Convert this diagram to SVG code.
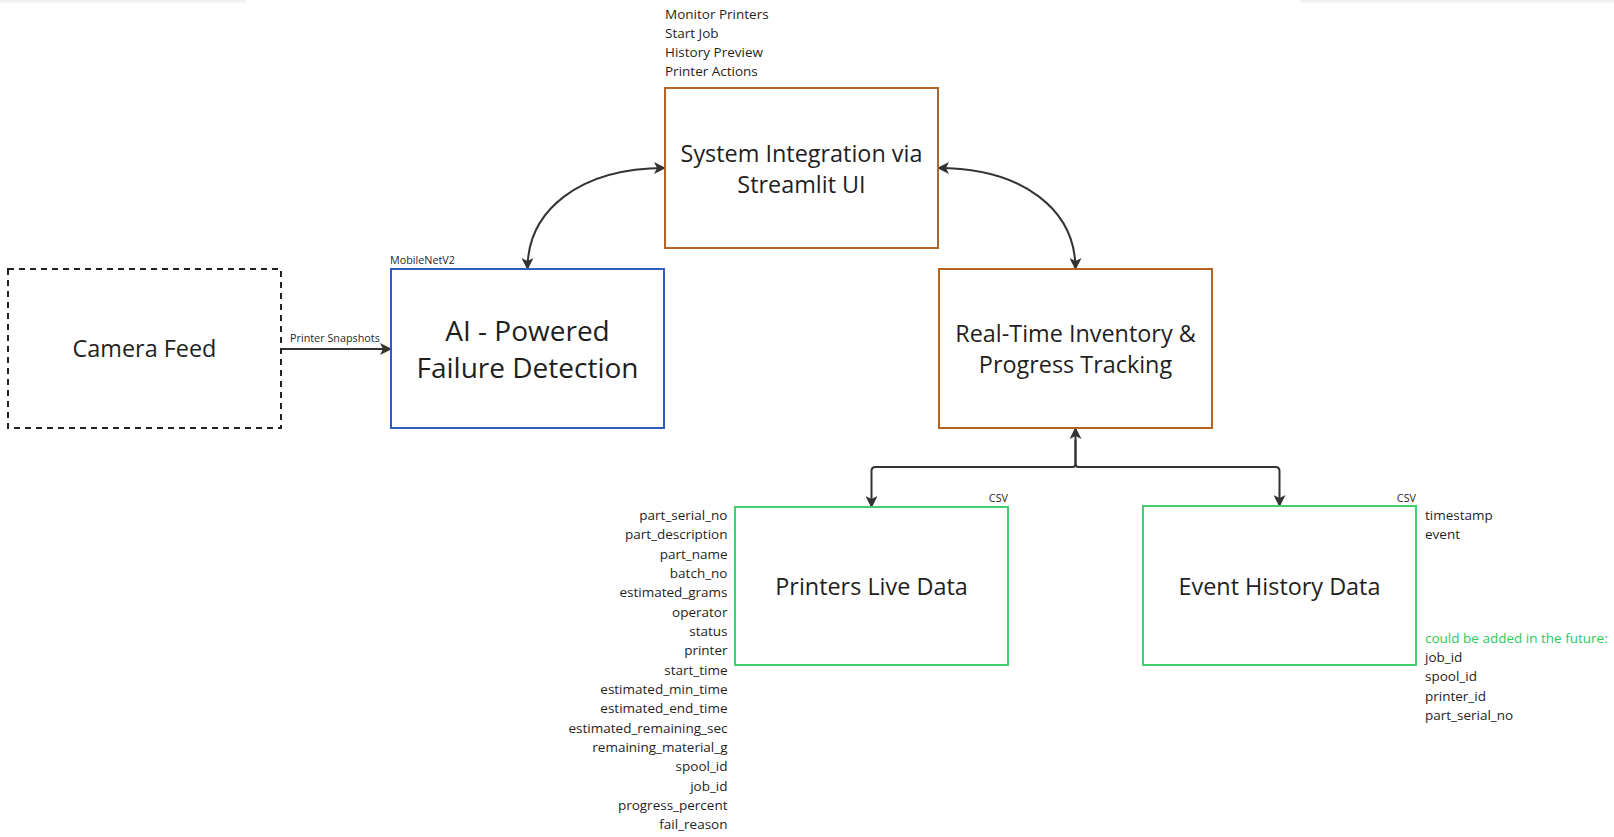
<svg xmlns="http://www.w3.org/2000/svg" width="1614" height="837" viewBox="0 0 1614 837">
<style>
  text { font-family: "Open Sans", "Noto Sans", "Liberation Sans", sans-serif; fill: #1f1f1f; }
  .big { font-size: 23.4px; text-anchor: middle; }
  .ai { font-size: 28px; text-anchor: middle; }
  .sm { font-size: 13.5px; }
  .xs { font-size: 10.8px; }
  .r { text-anchor: end; }
  .box { fill: #ffffff; stroke-width: 2; }
  .orange { stroke: #b5641f; }
  .blue { stroke: #2f5dbf; }
  .green { stroke: #43d06c; }
  .dash { stroke: #222; stroke-dasharray: 6 5; }
  .conn { fill: none; stroke: #333; stroke-width: 2; }
  .green-t { fill: #2fc95a; }
</style>
<defs>
  <marker id="arr" viewBox="0 0 12 12" refX="11" refY="6" markerWidth="12" markerHeight="12" markerUnits="userSpaceOnUse" orient="auto-start-reverse">
    <path d="M0,0 L12,6 L0,12 L3,6 Z" fill="#333"/>
  </marker>
  <linearGradient id="shadow" x1="0" y1="0" x2="0" y2="1">
    <stop offset="0" stop-color="#ececec"/>
    <stop offset="1" stop-color="#ffffff"/>
  </linearGradient>
</defs>
<rect width="1614" height="837" fill="#ffffff"/>
<rect x="0" y="0" width="246" height="4" fill="url(#shadow)"/>
<rect x="1300" y="0" width="314" height="4" fill="url(#shadow)"/>

<g id="connectors">
  <path class="conn" d="M281,349 L391,349" marker-end="url(#arr)"/>
  <path class="conn" d="M527.5,269 C527.5,210 580,168 665,168" marker-start="url(#arr)" marker-end="url(#arr)"/>
  <path class="conn" d="M938,168 C1023,168 1075.5,210 1075.5,269" marker-start="url(#arr)" marker-end="url(#arr)"/>
  <path class="conn" d="M1075.5,428 L1075.5,464 Q1075.5,467 1072.5,467 L875.5,467 Q871.5,467 871.5,471 L871.5,507" marker-start="url(#arr)" marker-end="url(#arr)"/>
  <path class="conn" d="M1075.5,440 L1075.5,464 Q1075.5,467 1078.5,467 L1275.5,467 Q1279.5,467 1279.5,471 L1279.5,506" marker-end="url(#arr)"/>
  <text class="xs" x="290" y="342">Printer Snapshots</text>
</g>

<g id="camera-feed">
  <rect class="box dash" x="8" y="269" width="273" height="159"/>
  <text class="big" x="144.5" y="357">Camera Feed</text>
</g>

<g id="ai-detection">
  <text class="xs" x="390" y="264">MobileNetV2</text>
  <rect class="box blue" x="391" y="269" width="273" height="159"/>
  <text class="ai" x="527.5" y="340.5">AI - Powered</text>
  <text class="ai" x="527.5" y="378">Failure Detection</text>
</g>

<g id="system-integration">
  <text class="sm" x="665" y="18.5">Monitor Printers</text>
  <text class="sm" x="665" y="37.8">Start Job</text>
  <text class="sm" x="665" y="57.1">History Preview</text>
  <text class="sm" x="665" y="76.4">Printer Actions</text>
  <rect class="box orange" x="665" y="88" width="273" height="160"/>
  <text class="big" x="801.5" y="161.5">System Integration via</text>
  <text class="big" x="801.5" y="192.7">Streamlit UI</text>
</g>

<g id="inventory-tracking">
  <rect class="box orange" x="939" y="269" width="273" height="159"/>
  <text class="big" x="1075.5" y="342">Real-Time Inventory &amp;</text>
  <text class="big" x="1075.5" y="373.3">Progress Tracking</text>
</g>

<g id="printers-live-data">
  <text class="xs r" x="1008" y="501.5">CSV</text>
  <rect class="box green" x="735" y="507" width="273" height="158"/>
  <text class="big" x="871.5" y="595">Printers Live Data</text>
  <g>
    <text class="sm r" x="727.5" y="520">part_serial_no</text>
    <text class="sm r" x="727.5" y="539.3">part_description</text>
    <text class="sm r" x="727.5" y="558.7">part_name</text>
    <text class="sm r" x="727.5" y="578">batch_no</text>
    <text class="sm r" x="727.5" y="597.3">estimated_grams</text>
    <text class="sm r" x="727.5" y="616.7">operator</text>
    <text class="sm r" x="727.5" y="636">status</text>
    <text class="sm r" x="727.5" y="655.3">printer</text>
    <text class="sm r" x="727.5" y="674.7">start_time</text>
    <text class="sm r" x="727.5" y="694">estimated_min_time</text>
    <text class="sm r" x="727.5" y="713.3">estimated_end_time</text>
    <text class="sm r" x="727.5" y="732.7">estimated_remaining_sec</text>
    <text class="sm r" x="727.5" y="752">remaining_material_g</text>
    <text class="sm r" x="727.5" y="771.3">spool_id</text>
    <text class="sm r" x="727.5" y="790.7">job_id</text>
    <text class="sm r" x="727.5" y="810">progress_percent</text>
    <text class="sm r" x="727.5" y="829.3">fail_reason</text>
  </g>
</g>

<g id="event-history-data">
  <text class="xs r" x="1416" y="501.5">CSV</text>
  <rect class="box green" x="1143" y="506" width="273" height="159"/>
  <text class="big" x="1279.5" y="595">Event History Data</text>
  <text class="sm" x="1425" y="520">timestamp</text>
  <text class="sm" x="1425" y="539.3">event</text>
  <text class="sm green-t" x="1425" y="642.6">could be added in the future:</text>
  <text class="sm" x="1425" y="662">job_id</text>
  <text class="sm" x="1425" y="681.3">spool_id</text>
  <text class="sm" x="1425" y="700.6">printer_id</text>
  <text class="sm" x="1425" y="720">part_serial_no</text>
</g>
</svg>
